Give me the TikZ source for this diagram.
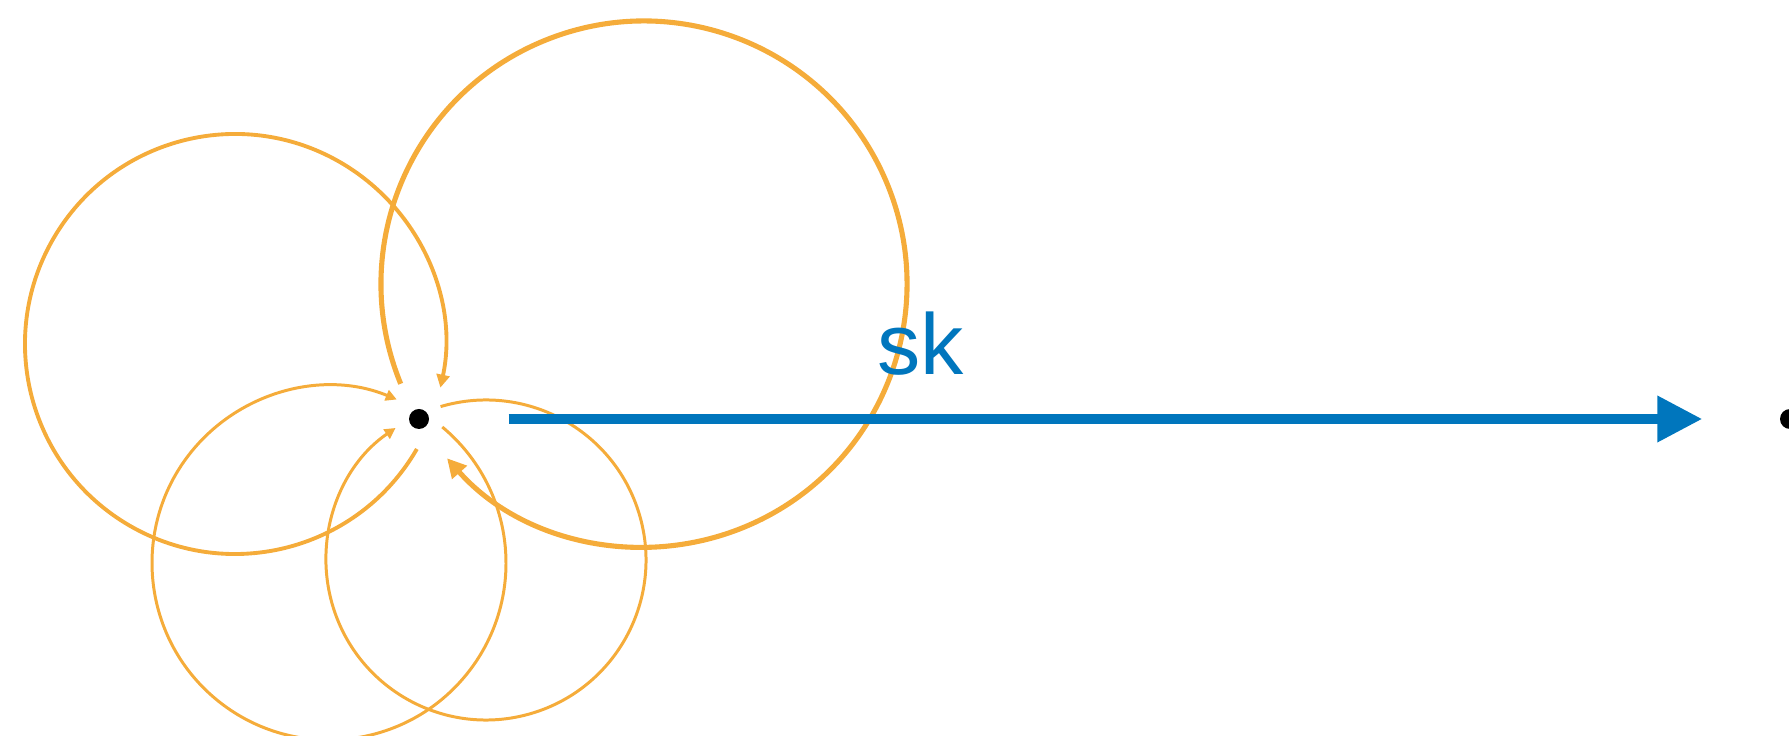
\documentclass[tikz,border=0pt]{standalone}
\usepackage{fontspec}
\setmainfont{Liberation Sans}
\usetikzlibrary{arrows.meta,positioning}
\definecolor{orbor}{RGB}{245,172,58}
\definecolor{skblue}{RGB}{0,118,189}

\begin{document}
\begin{tikzpicture}[x=0.1mm,y=0.1mm,
  dot/.style={circle,fill=black,inner sep=0pt,minimum size=2mm},
  orb/.style={draw=orbor,line width=#1},
  otip/.style={-{Triangle[length=#1,width=#1]}},
  lbl/.style={text=skblue,font=\fontsize{24.6pt}{29pt}\selectfont,inner sep=0pt}]
\useasboundingbox (0,0) rectangle (1789,736);

% centres of the four loops
\coordinate (cA) at (235,392);
\coordinate (cB) at (644,452);
\coordinate (cC) at (329,173);
\coordinate (cD) at (486,176);

\node[dot] (p) at (419,317) {};
\node[dot] (q) at (1790,317) {};

% loops back into p
\draw[orb=1.1pt, otip=1.3mm] (cA) ++(-30:21mm) arc[start angle=-30, end angle=-372, radius=21mm];
\draw[orb=1.45pt, otip=1.9mm] (cB) ++(202.3:26.3mm) arc[start angle=202.3, end angle=-138.5, radius=26.3mm];
\draw[orb=0.85pt, otip=1.1mm] (cC) ++(50.2:17.7mm) arc[start angle=50.2, end angle=-292.5, radius=17.7mm];
\draw[orb=0.85pt, otip=1.1mm] (cD) ++(106.5:16mm) arc[start angle=106.5, end angle=-235.6, radius=16mm];

% step p -> q
\draw[skblue, line width=1mm, -{Triangle[length=4.5mm,width=4.4mm]},
  shorten <=7.9mm, shorten >=7.7mm] (p) -- (q);
\node[lbl, anchor=base west] (sk) at (877,361) {sk};
\end{tikzpicture}
\end{document}
